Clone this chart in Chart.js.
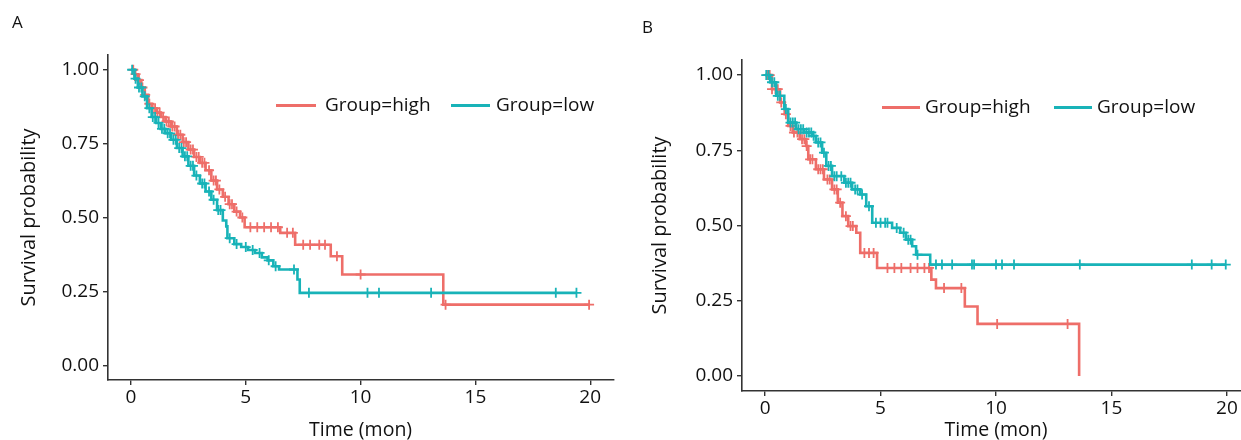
<!DOCTYPE html>
<html>
<head>
<meta charset="utf-8">
<script src="https://cdn.jsdelivr.net/npm/chart.js@4.4.0/dist/chart.umd.min.js"></script>
<style>
    body { margin: 0; width: 1241px; height: 440px; overflow: hidden; background: #fff; position: relative; font-family: 'Open Sans', sans-serif; }
    .panel { position: absolute; top: 0; }
    .tag { position: absolute; font-size: 17px; color: #111; line-height: 20px; }
    .key { position: absolute; height: 3px; }
    .key-text { position: absolute; font-size: 19px; line-height: 22px; color: #111; white-space: nowrap; }
</style>
</head>
<body>
<canvas id="chartA" class="panel" style="left:0" width="620" height="440"></canvas>
<canvas id="chartB" class="panel" style="left:620px" width="640" height="440"></canvas>
<div class="tag" style="left:12px;top:12px">A</div>
<div class="tag" style="left:642px;top:17px">B</div>
<div id="legends"></div>

<script>
// Trục và nhãn
const xTicks = [0, 5, 10, 15, 20];
const yTicks = [0, 0.25, 0.5, 0.75, 1];
const groupLabels = ['Group=high', 'Group=low'];

// Panel A - nhóm high
const aHighTime = [0, 0.15, 0.3, 0.45, 0.6, 0.75, 0.9, 1.1, 1.3, 1.5, 1.75, 2.0, 2.25, 2.5, 2.75, 3.0, 3.25, 3.5, 3.75, 4.0, 4.25, 4.5, 4.75, 4.95, 6.5, 7.15, 8.7, 9.2, 13.6, 19.95];
const aHighSurv = [1.00, 0.985, 0.965, 0.94, 0.915, 0.885, 0.87, 0.855, 0.84, 0.825, 0.808, 0.78, 0.755, 0.73, 0.705, 0.685, 0.66, 0.625, 0.595, 0.57, 0.545, 0.52, 0.50, 0.467, 0.448, 0.408, 0.369, 0.307, 0.205, 0.205];
const aHighCensor = [0.1, 0.2, 0.35, 0.5, 0.62, 0.8, 0.95, 1.05, 1.15, 1.25, 1.4, 1.55, 1.65, 1.8, 1.9, 2.05, 2.15, 2.3, 2.4, 2.6, 2.7, 2.85, 2.95, 3.1, 3.2, 3.4, 3.6, 3.7, 3.85, 4.1, 4.3, 4.4, 4.6, 4.85, 5.2, 5.5, 5.8, 6.1, 6.4, 6.8, 7.05, 7.5, 7.8, 8.2, 8.45, 8.97, 10.0, 13.7, 19.95];

// Panel A - nhóm low
const aLowTime = [0, 0.15, 0.3, 0.5, 0.7, 0.9, 1.1, 1.3, 1.5, 1.75, 2.0, 2.25, 2.5, 2.75, 3.0, 3.25, 3.5, 3.75, 4.0, 4.15, 4.2, 4.5, 4.8, 5.1, 5.4, 5.7, 5.95, 6.2, 6.45, 7.25, 7.35, 19.4];
const aLowSurv = [1.00, 0.97, 0.94, 0.91, 0.87, 0.84, 0.82, 0.80, 0.785, 0.763, 0.735, 0.707, 0.675, 0.642, 0.615, 0.588, 0.56, 0.525, 0.49, 0.47, 0.43, 0.41, 0.40, 0.39, 0.38, 0.365, 0.355, 0.335, 0.324, 0.29, 0.245, 0.245];
const aLowCensor = [0.05, 0.2, 0.35, 0.45, 0.6, 0.8, 0.95, 1.05, 1.2, 1.35, 1.45, 1.6, 1.7, 1.85, 1.95, 2.1, 2.2, 2.35, 2.45, 2.6, 2.7, 2.85, 3.1, 3.2, 3.4, 3.6, 3.8, 3.9, 4.3, 4.6, 5.0, 5.3, 5.6, 6.0, 6.3, 7.1, 7.75, 10.3, 10.8, 13.07, 18.5, 19.4];

// Panel B - nhóm high
const bHighTime = [0, 0.3, 0.65, 0.85, 1.0, 1.2, 1.5, 1.78, 1.87, 2.2, 2.55, 2.9, 3.15, 3.35, 3.6, 3.95, 4.12, 4.85, 7.2, 7.4, 8.65, 9.2, 13.6];
const bHighSurv = [1.00, 0.953, 0.909, 0.87, 0.831, 0.809, 0.787, 0.764, 0.72, 0.687, 0.653, 0.62, 0.576, 0.531, 0.498, 0.476, 0.409, 0.359, 0.32, 0.292, 0.231, 0.173, 0.0];
const bHighCensor = [0.1, 0.2, 0.3, 0.45, 0.55, 0.7, 0.9, 1.1, 1.25, 1.4, 1.6, 1.7, 1.8, 1.95, 2.05, 2.3, 2.4, 2.5, 2.7, 2.8, 3.0, 3.1, 3.25, 3.5, 3.7, 3.8, 4.3, 4.5, 4.7, 5.3, 5.6, 5.9, 6.3, 6.6, 6.9, 7.1, 7.75, 8.5, 10.05, 13.1];

// Panel B - nhóm low
const bLowTime = [0, 0.22, 0.48, 0.83, 1.0, 1.35, 1.7, 2.04, 2.2, 2.47, 2.65, 2.9, 3.43, 3.77, 4.12, 4.38, 4.64, 5.5, 5.85, 6.1, 6.37, 6.54, 7.15, 19.95];
const bLowSurv = [1.00, 0.976, 0.931, 0.887, 0.842, 0.82, 0.809, 0.798, 0.776, 0.742, 0.698, 0.664, 0.642, 0.62, 0.603, 0.564, 0.509, 0.492, 0.476, 0.453, 0.431, 0.403, 0.37, 0.37];
const bLowCensor = [0.05, 0.15, 0.3, 0.4, 0.55, 0.65, 0.9, 1.1, 1.2, 1.3, 1.45, 1.55, 1.65, 1.8, 1.9, 2.0, 2.1, 2.3, 2.4, 2.55, 2.75, 2.85, 3.0, 3.1, 3.3, 3.5, 3.6, 3.7, 3.9, 4.0, 4.2, 4.5, 4.8, 5.0, 5.2, 5.3, 5.7, 6.0, 6.2, 6.3, 6.6, 7.4, 7.66, 8.1, 8.96, 9.05, 10.0, 10.26, 10.78, 13.63, 18.48, 19.34, 19.95];

const RED = '#ee6e69';
const TEAL = '#18b3b8';
const FONT = "'Open Sans', sans-serif";

// Giá trị sống sót tại thời điểm t (bậc thang)
function survAt(times, surv, t) {
    let s = surv[0];
    times.forEach((tt, i) => { if (tt <= t) s = surv[i]; });
    return s;
}

function stepData(times, surv) {
    return times.map((t, i) => ({ x: t, y: surv[i] }));
}

function censorData(times, surv, censor) {
    return censor.map(t => ({ x: t, y: survAt(times, surv, t) }));
}

// Đường KM: đi ngang trước rồi mới rơi xuống
function curve(times, surv, color) {
    return { type: 'line', data: stepData(times, surv), borderColor: color, borderWidth: 2.6, stepped: 'before', pointRadius: 0, fill: false };
}

function marks(times, surv, censor, color) {
    return { type: 'scatter', data: censorData(times, surv, censor), borderColor: color, backgroundColor: color, pointStyle: 'cross', pointRadius: 5, borderWidth: 1.8, showLine: false };
}

function makeChart(id, datasets, lay) {
    const axisCol = '#333';
    new Chart(document.getElementById(id), {
        type: 'scatter',
        data: { datasets: datasets },
        options: {
            responsive: false, animation: false,
            layout: { padding: { left: 0, top: lay.top, right: lay.right, bottom: 0 } },
            plugins: { legend: { display: false }, tooltip: { enabled: false } },
            scales: {
                x: {
                    type: 'linear', min: -1, max: 21,
                    afterBuildTicks: s => { s.ticks = xTicks.map(v => ({ value: v })); },
                    afterFit: s => { s.height = lay.xHeight; },
                    border: { display: true, color: axisCol, width: 1.6 },
                    grid: { display: true, drawOnChartArea: false, drawTicks: true, tickLength: 5, color: axisCol, lineWidth: 1.4 },
                    ticks: { color: '#111', font: { family: FONT, size: 19 }, padding: 1, maxRotation: 0, callback: v => v },
                    title: { display: true, text: 'Time (mon)', color: '#111', font: { family: FONT, size: 19.5, lineHeight: 1 }, padding: { top: 0, bottom: 0 } }
                },
                y: {
                    type: 'linear', min: -0.05, max: 1.05,
                    afterBuildTicks: s => { s.ticks = yTicks.map(v => ({ value: v })); },
                    afterFit: s => { s.width = lay.yWidth; },
                    border: { display: true, color: axisCol, width: 1.6 },
                    grid: { display: true, drawOnChartArea: false, drawTicks: true, tickLength: 5, color: axisCol, lineWidth: 1.4 },
                    ticks: { color: '#111', font: { family: FONT, size: 19 }, padding: 4, callback: v => Number(v).toFixed(2) },
                    title: { display: true, text: 'Survival probability', color: '#111', font: { family: FONT, size: 20, lineHeight: 1 }, padding: { top: lay.titlePad, bottom: 0 } }
                }
            }
        }
    });
}

// Chú thích (HTML)
function addLegend(items) {
    const box = document.getElementById('legends');
    items.forEach(it => {
        const key = document.createElement('div');
        key.className = 'key';
        key.style.cssText = `left:${it.keyX}px;width:${it.keyW}px;top:${it.y - 1.5}px;background:${it.color}`;
        box.appendChild(key);
        const txt = document.createElement('div');
        txt.className = 'key-text';
        txt.style.cssText = `left:${it.textX}px;top:${it.y - 12}px`;
        txt.textContent = it.label;
        box.appendChild(txt);
    });
}

document.addEventListener('DOMContentLoaded', function() {
    makeChart('chartA', [
        marks(aLowTime, aLowSurv, aLowCensor, TEAL),
        curve(aLowTime, aLowSurv, TEAL),
        marks(aHighTime, aHighSurv, aHighCensor, RED),
        curve(aHighTime, aHighSurv, RED)
    ], { top: 55, right: 6, xHeight: 60, yWidth: 108, titlePad: 19 });

    makeChart('chartB', [
        marks(bLowTime, bLowSurv, bLowCensor, TEAL),
        curve(bLowTime, bLowSurv, TEAL),
        marks(bHighTime, bHighSurv, bHighCensor, RED),
        curve(bHighTime, bHighSurv, RED)
    ], { top: 60, right: 10, xHeight: 49, yWidth: 122, titlePad: 30 });

    addLegend([
        { keyX: 276, keyW: 40, textX: 325, y: 105, color: RED, label: groupLabels[0] },
        { keyX: 451, keyW: 39, textX: 496, y: 105, color: TEAL, label: groupLabels[1] },
        { keyX: 882, keyW: 38, textX: 925, y: 107, color: RED, label: groupLabels[0] },
        { keyX: 1054, keyW: 38, textX: 1097, y: 107, color: TEAL, label: groupLabels[1] }
    ]);
});
</script>
</body>
</html>
